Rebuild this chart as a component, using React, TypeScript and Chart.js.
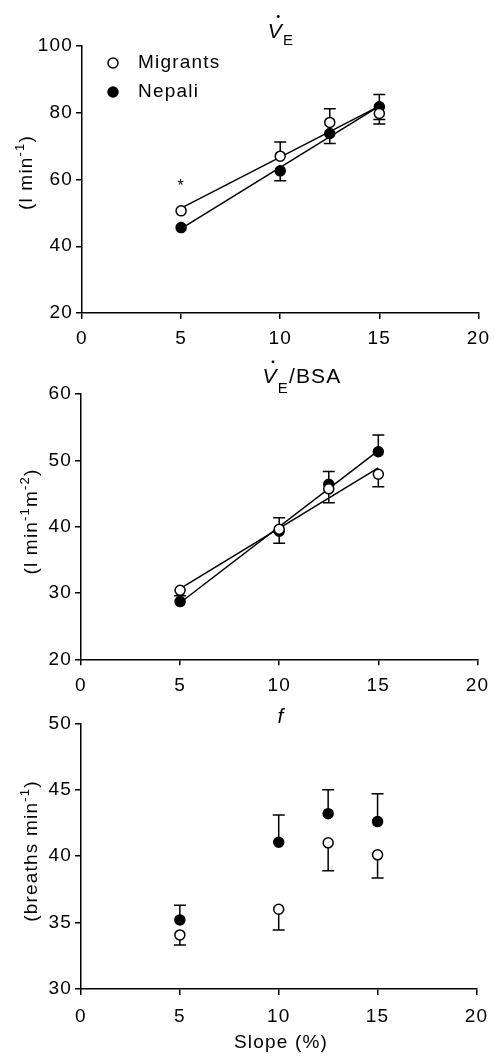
import React, { useEffect, useRef } from "react";
import { Chart, registerables } from "chart.js";

Chart.register(...registerables);

const W = 497;
const FONT = '"Liberation Sans", Arial, Helvetica, sans-serif';
const LS = "1.2px";

// ---- data ----
const slopes = [5, 10, 12.5, 15];
const slopeMin = 0;
const slopeMax = 20;
const slopeStep = 5;
const seriesNames = ["Migrants", "Nepali"];

// Panel 1: VE (l min-1)
const veMigrants = [50.6, 67.0, 77.1, 79.8];
const veMigrantsUp = [0, 4.2, 4.1, 0];
const veMigrantsDown = [0, 0, 0, 3.2];
const veNepali = [45.6, 62.6, 73.8, 81.8];
const veNepaliUp = [0, 0, 0, 3.7];
const veNepaliDown = [0, 3.0, 3.0, 3.8];
const veAsteriskSlope = [5];
const veAsteriskValue = [59];

// Panel 2: VE/BSA (l min-1 m-2)
const bsaMigrants = [30.4, 39.6, 45.7, 47.9];
const bsaMigrantsUp = [0, 0, 0, 0];
const bsaMigrantsDown = [0, 2.1, 2.1, 1.9];
const bsaNepali = [28.7, 39.3, 46.4, 51.3];
const bsaNepaliUp = [0.9, 2.05, 1.9, 2.5];
const bsaNepaliDown = [0, 0, 0, 0];

// Panel 3: f (breaths min-1)
const fMigrants = [34.07, 36.0, 41.0, 40.1];
const fMigrantsUp = [0, 0, 0, 0];
const fMigrantsDown = [0.75, 1.55, 2.1, 1.75];
const fNepali = [35.2, 41.05, 43.2, 42.6];
const fNepaliUp = [1.1, 2.05, 1.8, 2.1];
const fNepaliDown = [0, 0, 0, 0];

type Seg = { t: string; size: number; dy?: number; italic?: boolean };

function fontStr(size: number, italic?: boolean) {
  return `${italic ? "italic " : ""}${size}px ${FONT}`;
}

function segWidth(ctx: CanvasRenderingContext2D, segs: Seg[]) {
  let w = 0;
  for (const s of segs) {
    ctx.font = fontStr(s.size, s.italic);
    w += ctx.measureText(s.t).width;
  }
  return w;
}

function drawSegs(
  ctx: CanvasRenderingContext2D,
  segs: Seg[],
  x: number,
  y: number,
  align: "left" | "center"
) {
  const w = segWidth(ctx, segs);
  let cx = align === "center" ? x - w / 2 : x;
  const starts: number[] = [];
  ctx.textAlign = "left";
  ctx.textBaseline = "alphabetic";
  for (const s of segs) {
    ctx.font = fontStr(s.size, s.italic);
    starts.push(cx);
    ctx.fillText(s.t, cx, y + (s.dy || 0));
    cx += ctx.measureText(s.t).width;
  }
  return starts;
}

function drawVdot(ctx: CanvasRenderingContext2D, vLeft: number, baseline: number) {
  ctx.beginPath();
  ctx.arc(vLeft + 10.5, baseline - 21.5, 1.4, 0, Math.PI * 2);
  ctx.fill();
}

function drawRotated(
  ctx: CanvasRenderingContext2D,
  segs: Seg[],
  baselineX: number,
  centerY: number
) {
  ctx.save();
  ctx.translate(baselineX, centerY);
  ctx.rotate(-Math.PI / 2);
  drawSegs(ctx, segs, 0, 0, "center");
  ctx.restore();
}

// least-squares fit line over the measured points (drawn from first to last slope)
function fitLine(xs: number[], ys: number[]) {
  const n = xs.length;
  const mx = xs.reduce((a, b) => a + b, 0) / n;
  const my = ys.reduce((a, b) => a + b, 0) / n;
  let sxy = 0;
  let sxx = 0;
  for (let i = 0; i < n; i++) {
    sxy += (xs[i] - mx) * (ys[i] - my);
    sxx += (xs[i] - mx) * (xs[i] - mx);
  }
  const b = sxy / sxx;
  const a = my - b * mx;
  const x0 = xs[0];
  const x1 = xs[n - 1];
  return [
    { x: x0, y: a + b * x0 },
    { x: x1, y: a + b * x1 },
  ];
}

type Panel = {
  top: number;
  height: number;
  plot: { left: number; right: number; top: number; bottom: number };
  yMin: number;
  yMax: number;
  yStep: number;
  showFit: boolean;
  xPad: number;
  mig: number[];
  migUp: number[];
  migDown: number[];
  nep: number[];
  nepUp: number[];
  nepDown: number[];
  extra: (ctx: CanvasRenderingContext2D, chart: any) => void;
};

const panels: Panel[] = [
  {
    top: 0,
    height: 350,
    plot: { left: 82, right: 482, top: 46, bottom: 313 },
    yMin: 20,
    yMax: 100,
    yStep: 20,
    showFit: true,
    xPad: 8,
    mig: veMigrants,
    migUp: veMigrantsUp,
    migDown: veMigrantsDown,
    nep: veNepali,
    nepUp: veNepaliUp,
    nepDown: veNepaliDown,
    extra: (ctx, chart) => {
      ctx.fillStyle = "#000";
      const st = drawSegs(
        ctx,
        [
          { t: "V", size: 21, italic: true },
          { t: "E", size: 15, dy: 7 },
        ],
        281,
        38,
        "center"
      );
      drawVdot(ctx, st[0], 38);
      drawRotated(
        ctx,
        [
          { t: "(l min", size: 19 },
          { t: "-1", size: 13, dy: -8 },
          { t: ")", size: 19 },
        ],
        31.5,
        172.5
      );
      // legend
      const items = [
        { y: 63, fill: "#fff" },
        { y: 92, fill: "#000" },
      ];
      items.forEach((it, i) => {
        ctx.beginPath();
        ctx.arc(113, it.y, 5, 0, Math.PI * 2);
        ctx.fillStyle = it.fill;
        ctx.fill();
        ctx.lineWidth = 1.5;
        ctx.strokeStyle = "#000";
        ctx.stroke();
        ctx.fillStyle = "#000";
        ctx.font = fontStr(19);
        ctx.textAlign = "left";
        ctx.textBaseline = "middle";
        ctx.fillText(seriesNames[i], 138, it.y);
      });
      // asterisk
      const xs = chart.scales.x;
      const ys = chart.scales.y;
      veAsteriskSlope.forEach((s, i) => {
        ctx.font = fontStr(16);
        ctx.textAlign = "center";
        ctx.textBaseline = "alphabetic";
        ctx.fillText("*", xs.getPixelForValue(s), ys.getPixelForValue(veAsteriskValue[i]) + 8);
      });
    },
  },
  {
    top: 350,
    height: 350,
    plot: { left: 81, right: 480, top: 44, bottom: 309.3 },
    yMin: 20,
    yMax: 60,
    yStep: 10,
    showFit: true,
    xPad: 9,
    mig: bsaMigrants,
    migUp: bsaMigrantsUp,
    migDown: bsaMigrantsDown,
    nep: bsaNepali,
    nepUp: bsaNepaliUp,
    nepDown: bsaNepaliDown,
    extra: (ctx) => {
      ctx.fillStyle = "#000";
      const st = drawSegs(
        ctx,
        [
          { t: "V", size: 21, italic: true },
          { t: "E", size: 15, dy: 10 },
          { t: "/BSA", size: 21 },
        ],
        302,
        33.3,
        "center"
      );
      drawVdot(ctx, st[0], 33.3);
      drawRotated(
        ctx,
        [
          { t: "(l min", size: 19 },
          { t: "-1", size: 13, dy: -8 },
          { t: "m", size: 19 },
          { t: "-2", size: 13, dy: -8 },
          { t: ")", size: 19 },
        ],
        36.5,
        171.5
      );
    },
  },
  {
    top: 700,
    height: 357,
    plot: { left: 81, right: 480, top: 23.3, bottom: 289 },
    yMin: 30,
    yMax: 50,
    yStep: 5,
    showFit: false,
    xPad: 10,
    mig: fMigrants,
    migUp: fMigrantsUp,
    migDown: fMigrantsDown,
    nep: fNepali,
    nepUp: fNepaliUp,
    nepDown: fNepaliDown,
    extra: (ctx) => {
      ctx.fillStyle = "#000";
      drawSegs(ctx, [{ t: "f", size: 21, italic: true }], 281, 22.5, "center");
      drawRotated(
        ctx,
        [
          { t: "(breaths min", size: 19 },
          { t: "-1", size: 13, dy: -8 },
          { t: ")", size: 19 },
        ],
        36.5,
        151
      );
      drawSegs(ctx, [{ t: "Slope (%)", size: 19 }], 281, 348, "center");
    },
  },
];

function makeChart(canvas: HTMLCanvasElement, p: Panel) {
  const axisCommon = {
    grid: {
      display: true,
      drawOnChartArea: false,
      drawTicks: true,
      tickLength: 6,
      color: "#000",
      lineWidth: 1.5,
    },
    border: { display: true, color: "#000", width: 1.5 },
  };
  const errPlugin = {
    id: "errbars",
    beforeDraw(chart: any) {
      (chart.ctx as any).letterSpacing = LS;
    },
    beforeDatasetsDraw(chart: any) {
      const ctx = chart.ctx as CanvasRenderingContext2D;
      const xs = chart.scales.x;
      const ys = chart.scales.y;
      const groups = [
        { v: p.mig, up: p.migUp, dn: p.migDown },
        { v: p.nep, up: p.nepUp, dn: p.nepDown },
      ];
      ctx.save();
      ctx.strokeStyle = "#000";
      ctx.lineWidth = 1.5;
      groups.forEach((g) => {
        slopes.forEach((s, i) => {
          const x = xs.getPixelForValue(s);
          const y0 = ys.getPixelForValue(g.v[i]);
          const ends: number[] = [];
          if (g.up[i] > 0) ends.push(g.v[i] + g.up[i]);
          if (g.dn[i] > 0) ends.push(g.v[i] - g.dn[i]);
          ends.forEach((e) => {
            const y1 = ys.getPixelForValue(e);
            ctx.beginPath();
            ctx.moveTo(x, y0);
            ctx.lineTo(x, y1);
            ctx.moveTo(x - 6, y1);
            ctx.lineTo(x + 6, y1);
            ctx.stroke();
          });
        });
      });
      ctx.restore();
    },
    afterDraw(chart: any) {
      const ctx = chart.ctx as CanvasRenderingContext2D;
      ctx.save();
      (ctx as any).letterSpacing = LS;
      p.extra(ctx, chart);
      ctx.restore();
    },
  };

  const mkData = (vals: number[]) => slopes.map((s, i) => ({ x: s, y: vals[i] }));

  const pointDs = (label: string, vals: number[], fill: string, order: number) => ({
    label,
    data: mkData(vals),
    showLine: false,
    borderColor: "#000",
    borderWidth: 1.5,
    backgroundColor: fill,
    pointBackgroundColor: fill,
    pointBorderColor: "#000",
    pointBorderWidth: 1.5,
    pointRadius: 5,
    order,
  });
  const fitDs = (label: string, vals: number[]) => ({
    label,
    data: fitLine(slopes, vals),
    showLine: true,
    borderColor: "#000",
    borderWidth: 1.5,
    pointRadius: 0,
    tension: 0,
    fill: false,
    order: 5,
  });

  const datasets: any[] = [
    pointDs(seriesNames[0], p.mig, "#fff", 0),
    pointDs(seriesNames[1], p.nep, "#000", 1),
  ];
  if (p.showFit) {
    datasets.push(fitDs(seriesNames[0] + " fit", p.mig));
    datasets.push(fitDs(seriesNames[1] + " fit", p.nep));
  }

  return new Chart(canvas, {
    type: "line",
    data: { datasets },
    options: {
      animation: false,
      responsive: false,
      maintainAspectRatio: false,
      events: [],
      layout: {
        padding: { left: 0, right: W - p.plot.right, top: p.plot.top, bottom: 0 },
      },
      plugins: {
        legend: { display: false },
        tooltip: { enabled: false },
        title: { display: false },
      },
      scales: {
        x: {
          type: "linear",
          min: slopeMin,
          max: slopeMax,
          ...axisCommon,
          ticks: {
            stepSize: slopeStep,
            color: "#000",
            font: { family: FONT, size: 19 },
            padding: p.xPad,
            maxRotation: 0,
            autoSkip: false,
          },
          afterFit: (s: any) => {
            s.height = p.height - p.plot.bottom;
          },
        },
        y: {
          type: "linear",
          min: p.yMin,
          max: p.yMax,
          ...axisCommon,
          ticks: {
            stepSize: p.yStep,
            color: "#000",
            font: { family: FONT, size: 19 },
            padding: 3,
          },
          afterFit: (s: any) => {
            s.width = p.plot.left;
          },
        },
      },
    } as any,
    plugins: [errPlugin],
  });
}

export default function App() {
  const refs = [
    useRef<HTMLCanvasElement>(null),
    useRef<HTMLCanvasElement>(null),
    useRef<HTMLCanvasElement>(null),
  ];
  useEffect(() => {
    const charts = panels.map((p, i) => makeChart(refs[i].current!, p));
    return () => charts.forEach((c) => c.destroy());
  }, []);
  return (
    <div
      style={{
        position: "absolute",
        left: 0,
        top: 0,
        width: W,
        height: 1057,
        background: "#fff",
      }}
    >
      {panels.map((p, i) => (
        <canvas
          key={i}
          ref={refs[i]}
          width={W}
          height={p.height}
          style={{ position: "absolute", left: 0, top: p.top, width: W, height: p.height }}
        />
      ))}
    </div>
  );
}
